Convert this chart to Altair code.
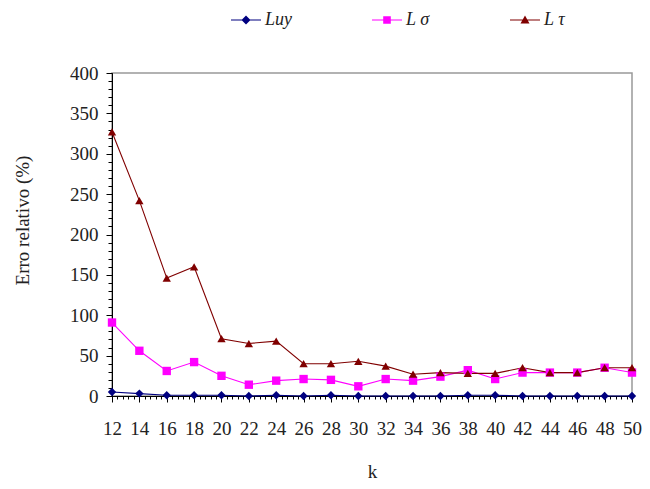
import altair as alt
import pandas as pd

k = [12, 14, 16, 18, 20, 22, 24, 26, 28, 30, 32, 34, 36, 38, 40, 42, 44, 46, 48, 50]
luy = [5, 3, 1, 1, 1, 0, 1, 0, 1, 0, 0, 0, 0, 1, 1, 0, 0, 0, 0, 0]
lsig = [91, 56, 31, 42, 25, 14, 19, 21, 20, 12, 21, 19, 24, 32, 21, 29, 29, 29, 35, 29]
ltau = [327, 242, 146, 160, 71, 65, 68, 40, 40, 43, 37, 27, 29, 28, 28, 35, 29, 29, 35, 35]

series_names = ["Luy", "L σ", "L τ"]
series_colors = ["#000080", "#FF00FF", "#800000"]
series_shapes = ["diamond", "square", "triangle-up"]
# legend symbols: a short line with the marker in the middle
legend_shapes = [
    "M-1.5,-0.06 L1.5,-0.06 L1.5,0.06 L-1.5,0.06 Z M0,-0.45 L0.45,0 L0,0.45 L-0.45,0 Z",
    "M-1.5,-0.06 L1.5,-0.06 L1.5,0.06 L-1.5,0.06 Z M-0.38,-0.38 L0.38,-0.38 L0.38,0.38 L-0.38,0.38 Z",
    "M-1.5,-0.06 L1.5,-0.06 L1.5,0.06 L-1.5,0.06 Z M0,-0.45 L0.45,0.35 L-0.45,0.35 Z",
]

rows = []
for name, vals in zip(series_names, [luy, lsig, ltau]):
    for kk, v in zip(k, vals):
        rows.append({"k": kk, "v": v, "s": name})
df = pd.DataFrame(rows)

font = "Liberation Serif"

xscale = alt.Scale(domain=[12, 50], nice=False, zero=False)
yscale = alt.Scale(domain=[0, 400], nice=False)
cscale = alt.Scale(domain=series_names, range=series_colors)

x_major = alt.X("k:Q", scale=xscale, title="k",
                axis=alt.Axis(values=k, tickSize=6, tickColor="black", domainColor="black",
                              labelFont=font, labelFontSize=19, labelColor="#222",
                              labelPadding=17, titleFont=font, titleFontSize=19,
                              titleFontWeight="normal", titleColor="#222", titlePadding=24,
                              grid=False, labelFlush=False))
y_major = alt.Y("v:Q", scale=yscale, title="Erro relativo (%)",
                axis=alt.Axis(values=list(range(0, 401, 50)), tickSize=6, tickColor="black",
                              domainColor="black", labelFont=font, labelFontSize=19,
                              labelColor="#222", labelPadding=8, titleFont=font,
                              titleFontSize=19, titleFontWeight="normal", titleColor="#222",
                              titlePadding=37, titleY=147, grid=False))

lines = alt.Chart(df).mark_line(strokeWidth=1.1).encode(
    x=x_major, y=y_major,
    color=alt.Color("s:N", scale=cscale, legend=None),
    detail="s:N",
)

points = alt.Chart(df).mark_point(filled=True, opacity=1, size=70).encode(
    x=alt.X("k:Q", scale=xscale,
            axis=alt.Axis(values=[12 + 0.4 * i for i in range(96)], labels=False, tickSize=3,
                          tickColor="black", domain=False, title=None, grid=False,
                          orient="bottom")),
    y=alt.Y("v:Q", scale=yscale,
            axis=alt.Axis(values=list(range(0, 401, 10)), labels=False, tickSize=4,
                          tickColor="black", domain=False, title=None, grid=False,
                          orient="left")),
    color=alt.Color("s:N", scale=cscale, legend=None),
    shape=alt.Shape("s:N", scale=alt.Scale(domain=series_names, range=series_shapes),
                    legend=None),
)

leg = alt.Legend(orient="none", legendX=124, legendY=-63, direction="horizontal",
                 title=None, labelFont=font, labelFontStyle="italic", labelFontSize=18,
                 labelColor="#222", columnPadding=80, symbolSize=400, labelOffset=9,
                 symbolStrokeWidth=0)

legend_layer = alt.Chart(df).transform_filter("datum.v < -1").mark_point(
    filled=True, opacity=1, size=400).encode(
    x=alt.X("k:Q", scale=xscale, axis=None),
    y=alt.Y("v:Q", scale=yscale, axis=None),
    color=alt.Color("s:N", scale=cscale, legend=leg),
    shape=alt.Shape("s:N", scale=alt.Scale(domain=series_names, range=legend_shapes),
                    legend=leg),
)

chart = alt.layer(lines, points, legend_layer).resolve_axis(
    x="independent", y="independent"
).resolve_scale(color="independent", shape="independent").properties(
    width=520, height=323,
    autosize=alt.AutoSizeParams(type="none"),
    padding={"left": 104, "top": 65, "right": 10, "bottom": 85},
).configure_view(stroke="#999999", strokeWidth=1.5)

chart.save("out.html", embed_options={"renderer": "svg", "actions": False})
